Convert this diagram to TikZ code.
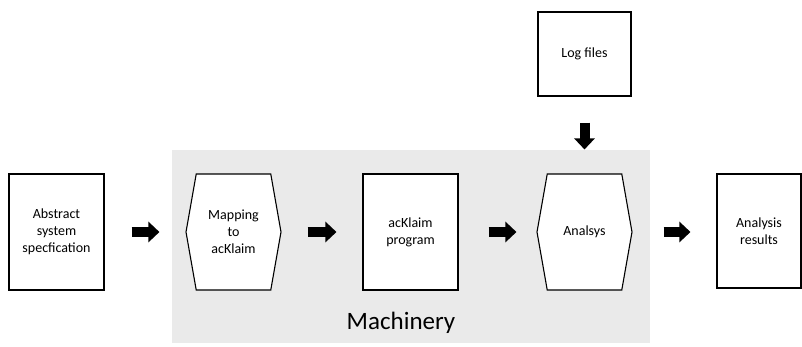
\documentclass[tikz,border=0pt]{standalone}
\usepackage{fontspec}
\setmainfont{Carlito}
\usetikzlibrary{shapes.symbols,arrows.meta}

\definecolor{machgray}{RGB}{234,234,234}

\tikzset{
	box/.style={draw, line width=1.1pt, fill=white, minimum width=95pt, minimum height=116pt, inner sep=0pt, align=center, font=\fontsize{14}{17}\selectfont},
	hexbox/.style={box, signal, signal to=east and west, signal pointer angle=160},
	fatarrow/.style={line width=10pt, -{Triangle[length=11pt, width=20pt]}}
}

\begin{document}
\begin{tikzpicture}[x=1pt, y=-1pt]
		\useasboundingbox (0, 0) rectangle (802, 346);
		
		% grey machinery area
		\node[fill=machgray, minimum width=478pt, minimum height=193pt, inner sep=0pt] (machinery) at (411, 246.5) {};
		\node[font=\fontsize{25}{30}\selectfont] (machlabel) at (401, 323) {Machinery};
		
		\node[box] (spec) at (56.5, 232) {Abstract\\system\\specfication};
		\node[hexbox] (mapping) at (233.5, 232) {Mapping\\to\\acKlaim};
		\node[box] (program) at (410.5, 232) {acKlaim\\program};
		\node[hexbox] (analsys) at (584.5, 232) {Analsys};
		\node[box, minimum width=84pt, minimum height=114pt] (results) at (759, 231) {Analysis\\results};
		\node[box, minimum width=93pt, minimum height=84pt] (logs) at (584.5, 54) {Log files};
		
		\draw[fatarrow, shorten <=27pt, shorten >=26pt] (spec.east) -- (mapping.west);
		\draw[fatarrow, shorten <=26pt, shorten >=26pt] (mapping.east) -- (program.west);
		\draw[fatarrow, shorten <=30pt, shorten >=20pt] (program.east) -- (analsys.west);
		\draw[fatarrow, shorten <=31pt, shorten >=26pt] (analsys.east) -- (results.west |- analsys.east);
		\draw[fatarrow, shorten <=26pt, shorten >=24pt] (logs.south) -- (analsys.north);
	\end{tikzpicture}
\end{document}
